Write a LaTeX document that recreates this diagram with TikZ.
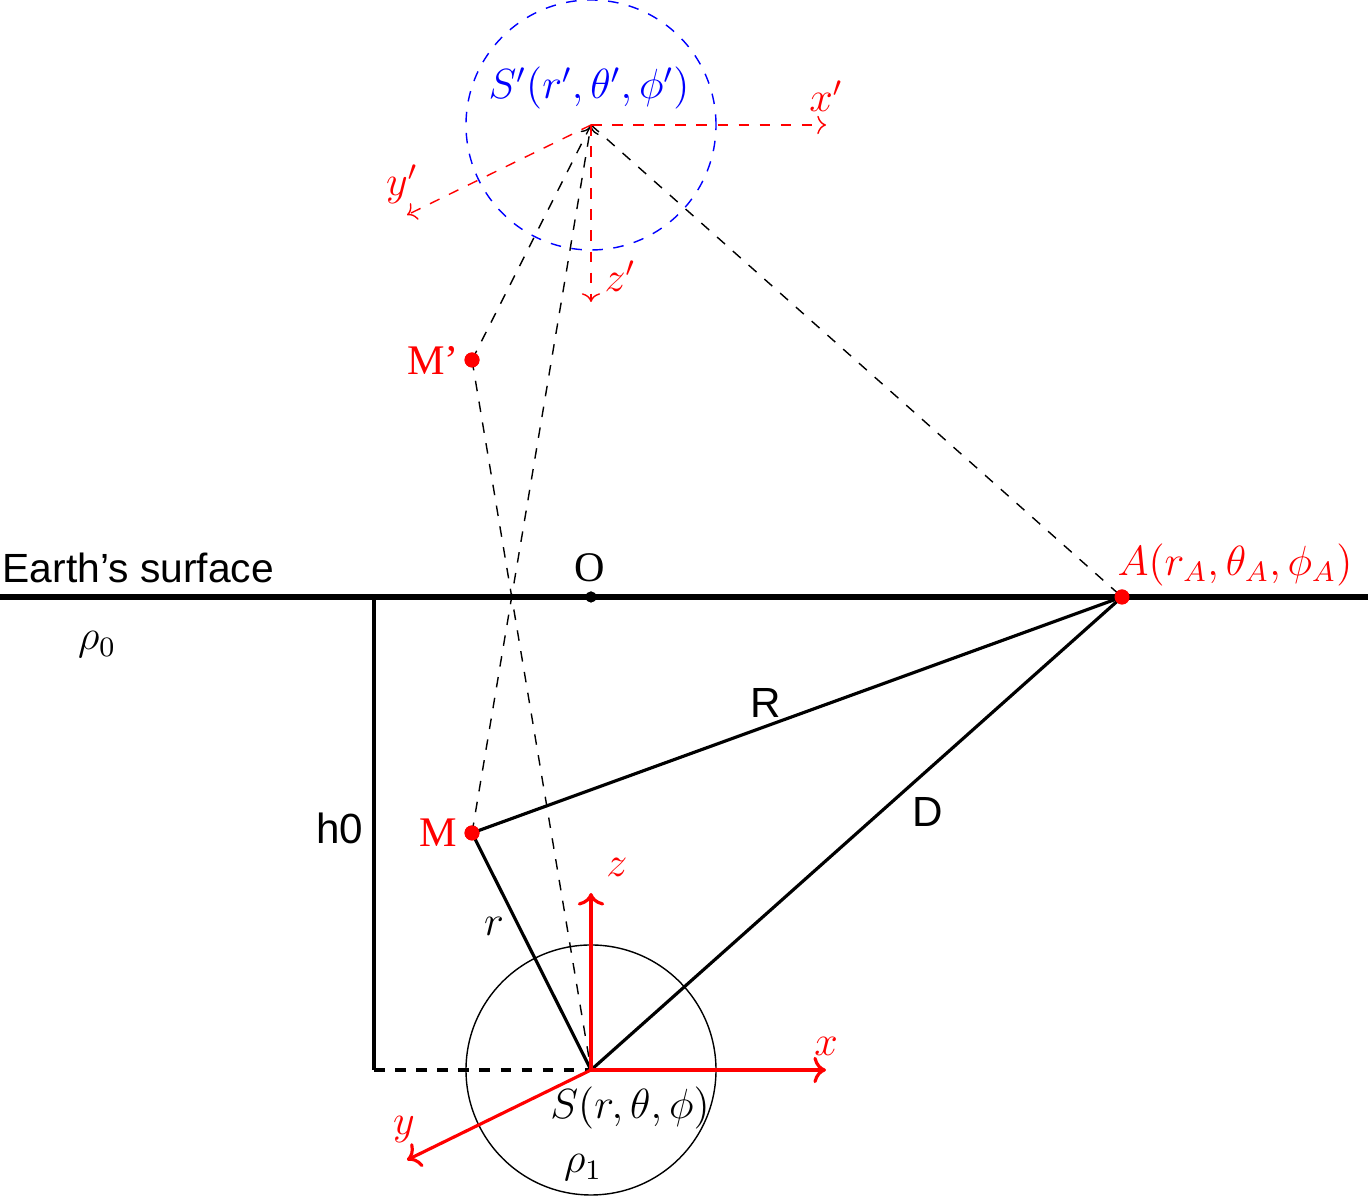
\documentclass[tikz,border=0pt]{standalone}
\usepackage{amsmath,amssymb}
\usepackage{fontspec}
\newfontfamily\arialfont{Liberation Sans}
\newfontfamily\timesfont{Liberation Serif}
\usetikzlibrary{arrows.meta,positioning}
\tikzset{
  surface/.style={line width=1.5pt},
  solidline/.style={line width=0.9pt},
  guideline/.style={dashed},
  axis/.style={->, line width=0.9pt, red},
  axisdash/.style={->, dashed, red},
  point/.style={circle, inner sep=0pt, minimum size=0.15cm},
  reddot/.style={point, fill=red},
  blackdot/.style={circle, fill=black, inner sep=0pt, minimum size=0.11cm},
  mathlabel/.style={font=\large},
  sanslabel/.style={font=\arialfont\large},
  serlabel/.style={font=\timesfont\large},
}

\begin{document}
\begin{tikzpicture}
\useasboundingbox (0,0) rectangle (13.68,11.96);

% points
\node[point] (S) at (5.91,1.26) {};
\node[point] (Sp) at (5.91,10.71) {};
\node[reddot] (M) at (4.72,3.63) {};
\node[reddot] (Mp) at (4.72,8.36) {};
\node[reddot] (A) at (11.22,5.99) {};
\node[blackdot] (O) at (5.91,5.99) {};
\coordinate (left) at (0,5.99);
\coordinate (right) at (13.68,5.99);
\coordinate (corner) at (3.74,5.99);
\coordinate (foot) at (3.74,1.26);

% spheres
\draw (S.center) circle (1.25);
\draw[blue, dashed] (Sp.center) circle (1.25);

% surface and depth
\draw[surface] (left) -- (right);
\draw[solidline] (corner) -- (foot);
\draw[solidline, dashed] (foot) -- (S.center);

% dashed image lines
\foreach \a/\b in {Sp/Mp, Sp/A, Mp/S}
  \draw[guideline] (\a.center) -- (\b.center);
\draw[guideline, ->] (M.center) -- (Sp.center);

% solid lines
\foreach \a/\b in {M/A, S/A, M/S}
  \draw[solidline] (\a.center) -- (\b.center);

% axes at S
\coordinate (xend) at (8.26,1.26);
\coordinate (zend) at (5.91,3.03);
\coordinate (yend) at (4.07,0.36);
\foreach \e in {xend, zend, yend}
  \draw[axis] (S.center) -- (\e);

% axes at S'
\coordinate (xpend) at (8.26,10.71);
\coordinate (zpend) at (5.91,8.94);
\coordinate (ypend) at (4.07,9.81);
\foreach \e in {xpend, zpend, ypend}
  \draw[axisdash] (Sp.center) -- (\e);

% redraw dots on top
\node[reddot] at (M.center) {};
\node[reddot] at (Mp.center) {};
\node[reddot] at (A.center) {};
\node[blackdot] at (O.center) {};

% labels
\node[font=\arialfont\fontsize{11.6}{14}\selectfont, anchor=west, inner sep=0pt] (surflabel) at (0.02,6.28) {Earth’s surface};
\node[serlabel] (Olabel) at (5.90,6.28) {O};
\node[mathlabel, red] (Alabel) at (12.35,6.31) {$A(r_A,\theta_A,\phi_A)$};
\node[mathlabel] (rho0) at (0.97,5.51) {$\rho_0$};
\node[mathlabel] (rho1) at (5.83,0.28) {$\rho_1$};
\node[sanslabel] (hlabel) at (3.40,3.68) {h0};
\node[sanslabel] (Rlabel) at (7.66,4.93) {R};
\node[sanslabel] (Dlabel) at (9.28,3.84) {D};
\node[mathlabel] (rlabel) at (4.94,2.70) {$r$};
\node[serlabel, red] (Mlabel) at (4.38,3.63) {M};
\node[serlabel, red] (Mplabel) at (4.33,8.36) {M’};
\node[mathlabel, red] (zlabel) at (6.17,3.29) {$z$};
\node[mathlabel, red] (xlabel) at (8.26,1.50) {$x$};
\node[mathlabel, red] (ylabel) at (4.04,0.66) {$y$};
\node[mathlabel] (Slabel) at (6.30,0.88) {$S(r,\theta,\phi)$};
\node[mathlabel, red] (zplabel) at (6.20,9.20) {$z'$};
\node[mathlabel, red] (xplabel) at (8.26,11.00) {$x'$};
\node[mathlabel, red] (yplabel) at (4.02,10.12) {$y'$};
\node[mathlabel, blue] (Splabel) at (5.89,11.08) {$S'(r',\theta',\phi')$};
\end{tikzpicture}
\end{document}
